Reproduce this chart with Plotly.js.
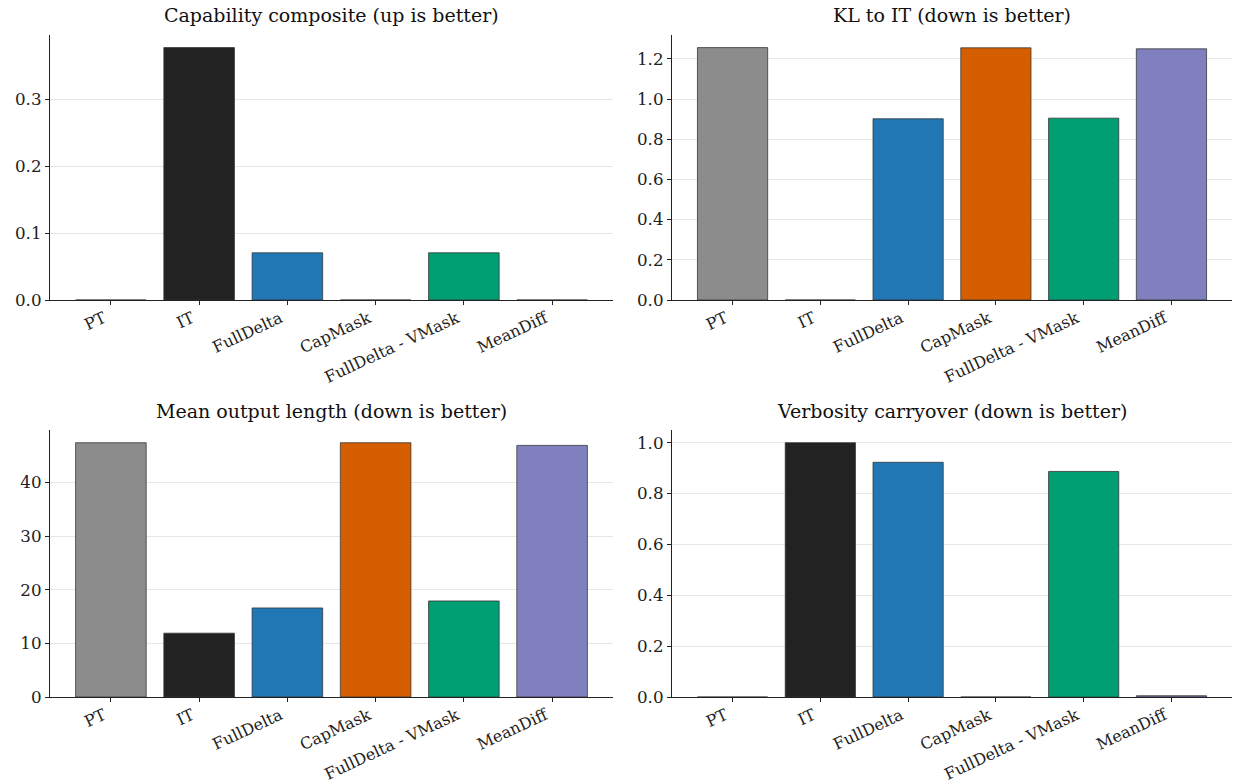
<!DOCTYPE html>
<html>
<head>
<meta charset="utf-8">
<script src="https://cdn.plot.ly/plotly-3.0.1.min.js"></script>
<style>html,body{margin:0;padding:0;background:#fff;}#chart{width:1235px;height:783px;}</style>
</head>
<body>
<div id="chart"></div>
<script>
// ---- data ----
const methods = ["PT", "IT", "FullDelta", "CapMask", "FullDelta - VMask", "MeanDiff"];
const barColors = ["#8c8c8c", "#222222", "#2077b4", "#d55e00", "#009e73", "#8080bf"];
const capabilityComposite = [0.0, 0.377, 0.0705, 0.0, 0.0705, 0.0];
const klToIT = [1.256, 0.0, 0.902, 1.255, 0.905, 1.250];
const meanOutputLength = [47.4, 11.9, 16.6, 47.4, 17.9, 46.9];
const verbosityCarryover = [0.0, 1.0, 0.923, 0.0, 0.887, 0.005];
const panelTitles = [
  "Capability composite (up is better)",
  "KL to IT (down is better)",
  "Mean output length (down is better)",
  "Verbosity carryover (down is better)"
];
const panelValues = [capabilityComposite, klToIT, meanOutputLength, verbosityCarryover];
const yTickVals = [
  [0, 0.1, 0.2, 0.3],
  [0, 0.2, 0.4, 0.6, 0.8, 1.0, 1.2],
  [0, 10, 20, 30, 40],
  [0, 0.2, 0.4, 0.6, 0.8, 1.0]
];
const yTickText = [
  ["0.0", "0.1", "0.2", "0.3"],
  ["0.0", "0.2", "0.4", "0.6", "0.8", "1.0", "1.2"],
  ["0", "10", "20", "30", "40"],
  ["0.0", "0.2", "0.4", "0.6", "0.8", "1.0"]
];

// ---- layout geometry ----
const W = 1235, H = 783;
const FONT = "DejaVu Serif, Liberation Serif, serif";
const xDomains = [[50 / W, 613 / W], [672 / W, 1232 / W], [50 / W, 613 / W], [672 / W, 1232 / W]];
const yDomains = [[1 - 300 / H, 1 - 35 / H], [1 - 300 / H, 1 - 35 / H], [1 - 697 / H, 1 - 430 / H], [1 - 697 / H, 1 - 430 / H]];

const traces = [];
const layout = {
  width: W, height: H,
  margin: {l: 0, r: 0, t: 0, b: 0},
  paper_bgcolor: "#ffffff",
  plot_bgcolor: "#ffffff",
  showlegend: false,
  font: {family: FONT, size: 17, color: "#222222"},
  annotations: [],
  bargap: 0.2
};

panelValues.forEach((vals, i) => {
  const n = i === 0 ? "" : String(i + 1);
  traces.push({
    type: "bar",
    x: methods,
    y: vals,
    xaxis: "x" + n,
    yaxis: "y" + n,
    width: 0.8,
    marker: {color: barColors, line: {color: "rgba(50,50,50,0.85)", width: 0.9}},
    hoverinfo: "x+y"
  });
  const ymax = Math.max(...vals);
  layout["xaxis" + n] = {
    domain: xDomains[i],
    anchor: "y" + n,
    type: "category",
    range: [-0.69, 5.69],
    showgrid: false,
    showline: true, linecolor: "#222222", linewidth: 1.1,
    ticks: "outside", ticklen: 4, tickwidth: 1, tickcolor: "#222222",
    tickangle: -25,
    ticklabelshift: -7,
    ticklabelstandoff: -2,
    tickfont: {family: FONT, size: 16, color: "#222222"},
    automargin: false,
    zeroline: false,
    fixedrange: true
  };
  layout["yaxis" + n] = {
    domain: yDomains[i],
    anchor: "x" + n,
    range: [0, ymax * 1.05],
    tickvals: yTickVals[i],
    ticktext: yTickText[i],
    showgrid: true, gridcolor: "#e6e6e6", gridwidth: 1,
    showline: true, linecolor: "#222222", linewidth: 1.1,
    ticks: "outside", ticklen: 4, tickwidth: 1, tickcolor: "#222222",
    tickfont: {family: FONT, size: 16.7, color: "#222222"},
    automargin: false,
    zeroline: false,
    fixedrange: true
  };
  const xc = (xDomains[i][0] + xDomains[i][1]) / 2;
  const titleOffset = i < 2 ? 20 : 19;
  layout.annotations.push({
    text: panelTitles[i],
    xref: "paper", yref: "paper",
    x: xc, y: yDomains[i][1] + titleOffset / H,
    xanchor: "center", yanchor: "middle",
    showarrow: false,
    font: {family: FONT, size: 19, color: "#111111"}
  });
});

Plotly.newPlot("chart", traces, layout, {displayModeBar: false, staticPlot: true});
</script>
</body>
</html>
